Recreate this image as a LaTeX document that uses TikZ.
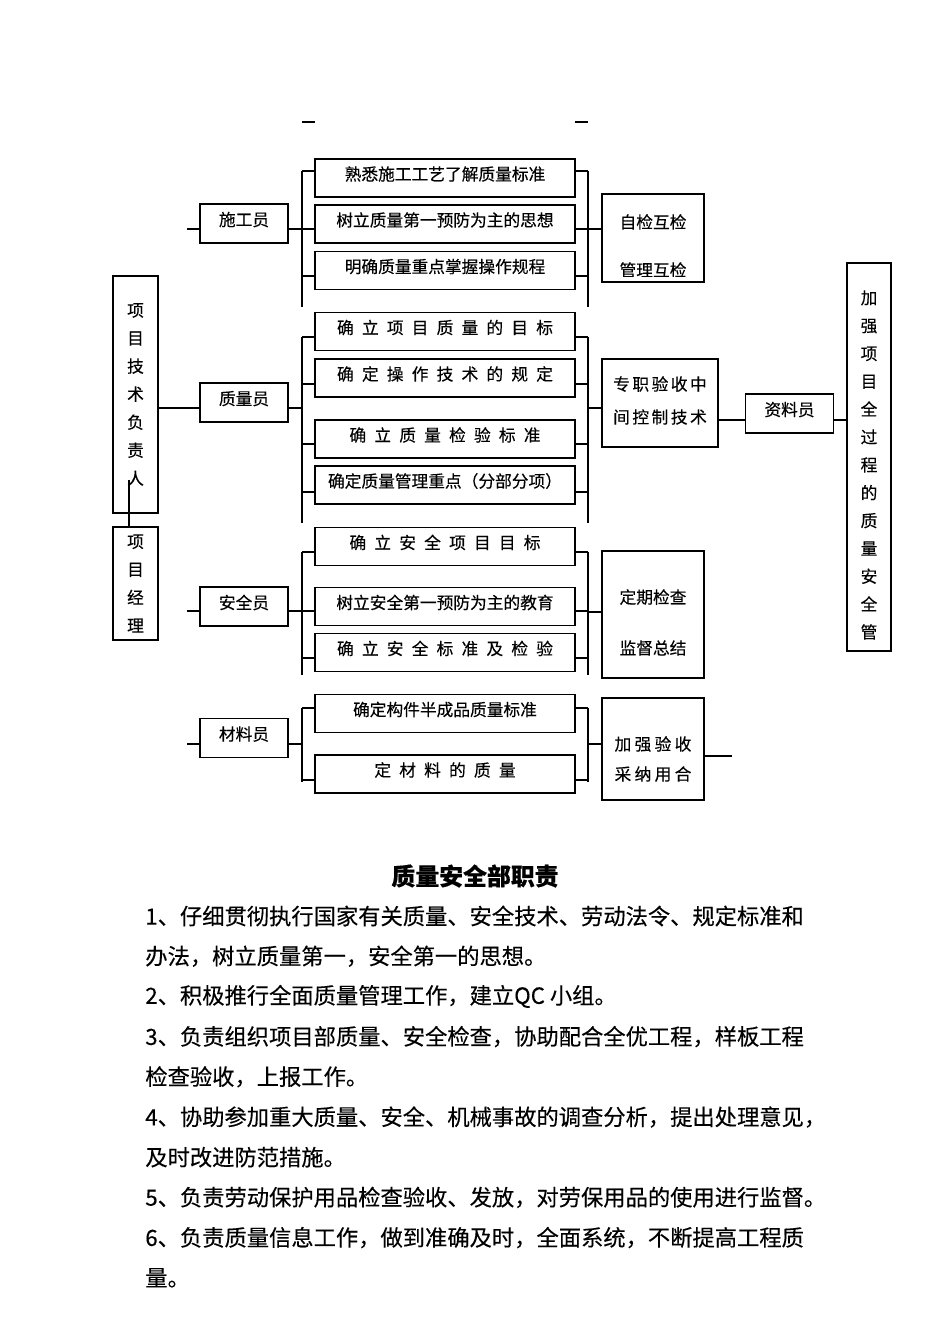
\documentclass[tikz,border=0pt]{standalone}
\usepackage{fontspec}
\setmainfont{Noto Sans CJK SC}[FakeBold=0.3]
\newcommand\pxu{0.6283pt}
\newcommand\spread[1]{\spaceskip=#1em\relax}

\begin{document}
\begin{tikzpicture}[x=\pxu, y=-\pxu,
    link/.style={line width=0.8pt},
    box/.style={draw, line width=0.8pt, inner sep=0pt, minimum width=260*\pxu, minimum height=38*\pxu,
      text height=6pt, text depth=3pt, font=\fontsize{10.5pt}{12pt}\selectfont},
    wide/.style={font=\fontsize{10.5pt}{12pt}\selectfont\spread{.49}},
    role/.style={box, minimum width=88*\pxu, minimum height=39*\pxu},
    frame/.style={draw, line width=0.8pt, inner sep=0pt},
    vtext/.style={align=center, inner sep=0pt, font=\fontsize{10.5pt}{#1}\selectfont},
    vtext/.default=17.6pt
  ]
		\path[use as bounding box] (0,0) rectangle (950,1344);
		% left column
		\node[frame, vtext, minimum width=45*\pxu, minimum height=237*\pxu] (fzr) at (135.5,394.5) {项\\目\\技\\术\\负\\责\\人};
		\node[frame, vtext, minimum width=45*\pxu, minimum height=113*\pxu] (jl) at (135.5,583.5) {项\\目\\经\\理};
		% roles
		\node[role] (sgy) at (244,223.5) {施工员};
		\node[role] (zly) at (244,402.5) {质量员};
		\node[role] (aqy) at (244,606.5) {安全员};
		\node[role] (cly) at (244,738) {材料员};
		% tasks
		\node[box] (a1) at (445,178) {熟悉施工工艺了解质量标准};
		\node[box] (a2) at (445,224) {树立质量第一预防为主的思想};
		\node[box] (a3) at (445,270.5) {明确质量重点掌握操作规程};
		\node[box, wide] (b1) at (445,331.5) {确 立 项 目 质 量 的 目 标};
		\node[box, wide] (b2) at (445,378) {确 定 操 作 技 术 的 规 定};
		\node[box, wide] (b3) at (445,439) {确 立 质 量 检 验 标 准};
		\node[box] (b4) at (445,485) {确定质量管理重点（分部分项）};
		\node[box, wide] (c1) at (445,546.5) {确 立 安 全 项 目 目 标};
		\node[box] (c2) at (445,606.5) {树立安全第一预防为主的教育};
		\node[box, wide] (c3) at (445,652.5) {确 立 安 全 标 准 及 检 验};
		\node[box] (d1) at (445,713.5) {确定构件半成品质量标准};
		\node[box, wide] (d2) at (445,774) {定 材 料 的 质 量};
		% results
		\node[frame, minimum width=102*\pxu, minimum height=88*\pxu] (r1) at (653,238) {};
		\begin{scope}
			\clip (602,194) rectangle (704,277);
			\node[vtext=30.2pt] (r1t) at (653,246) {自检互检\\管理互检};
		\end{scope}
		\node[frame, minimum width=116*\pxu, minimum height=88*\pxu] (r2) at (660,403) {};
		\node[vtext=20.7pt] (r2t) at (660,400.5) {{\spread{.15}专 职 验 收 中}\\{\spread{.15}间 控 制 技 术}};
		\node[frame, minimum width=102*\pxu, minimum height=127*\pxu] (r3) at (653,614.5) {};
		\node[vtext=32pt] (r3t) at (653,622.5) {定期检查\\监督总结};
		\node[frame, minimum width=102*\pxu, minimum height=102*\pxu] (r4) at (653,749) {};
		\node[vtext=18.85pt] (r4t) at (653,759) {{\spread{.2}加 强 验 收}\\{\spread{.2}采 纳 用 合}};
		\node[role] (zlb) at (789.5,413.5) {资料员};
		\node[frame, minimum width=44*\pxu, minimum height=388*\pxu] (jq) at (869,457) {};
		\node[vtext=17.5pt] (jqt) at (869,465) {加\\强\\项\\目\\全\\过\\程\\的\\质\\量\\安\\全\\管};
		% connectors
		\draw[link] (302,122) -- (315,122) (575,122) -- (588,122);
		\foreach \t/\b in {171/307, 337/523, 552/675, 708/782}
		{\draw[link] (302,\t) -- (302,\b) (588,\t) -- (588,\b);}
		\foreach \n/\y in {a1/171, a2/229, a3/276, b1/337, b2/384, b3/444, b4/492, c1/552, c2/611, c3/658, d1/708, d2/780}
		{\draw[link] (302,\y) -- (\n.west |- 0,\y) (\n.east |- 0,\y) -- (588,\y);}
		\foreach \n/\y in {sgy/229, zly/408, aqy/611, cly/744}
		{\draw[link] (\n.east |- 0,\y) -- (302,\y);}
		\foreach \n/\y in {sgy/229, aqy/611, cly/744}
		{\draw[link] (187,\y) -- (\n.west |- 0,\y);}
		\foreach \n/\y in {r1/229, r2/408, r3/612, r4/744}
		{\draw[link] (588,\y) -- (\n.west |- 0,\y);}
		\draw[link] (fzr.east |- 0,408) -- (zly.west |- 0,408);
		\draw[link] (129,480) -- (jl.north -| 129,0);
		\draw[link] (r2.east |- 0,420) -- (zlb.west |- 0,420);
		\draw[link] (zlb.east |- 0,420) -- (jq.west |- 0,420);
		\draw[link] (r4.east |- 0,756) -- (732,756);
		% duties
		\node[font=\fontsize{15pt}{18pt}\selectfont\bfseries] (title) at (475,876) {质量安全部职责};
		\foreach \i/\t in {
			1/1、仔细贯彻执行国家有关质量、安全技术、劳动法令、规定标准和,
			2/办法，树立质量第一，安全第一的思想。,
			3/2、积极推行全面质量管理工作，建立QC 小组。,
			4/3、负责组织项目部质量、安全检查，协助配合全优工程，样板工程,
			5/检查验收，上报工作。,
			6/4、协助参加重大质量、安全、机械事故的调查分析，提出处理意见，,
			7/及时改进防范措施。,
			8/5、负责劳动保护用品检查验收、发放，对劳保用品的使用进行监督。,
			9/6、负责质量信息工作，做到准确及时，全面系统，不断提高工程质,
			10/量。
		}{
			\node[anchor=west, inner sep=0pt, font=\fontsize{14pt}{16pt}\selectfont] (line\i) at (145,{916+40.2*(\i-1)}) {\t};
		}
\end{tikzpicture}
\end{document}
